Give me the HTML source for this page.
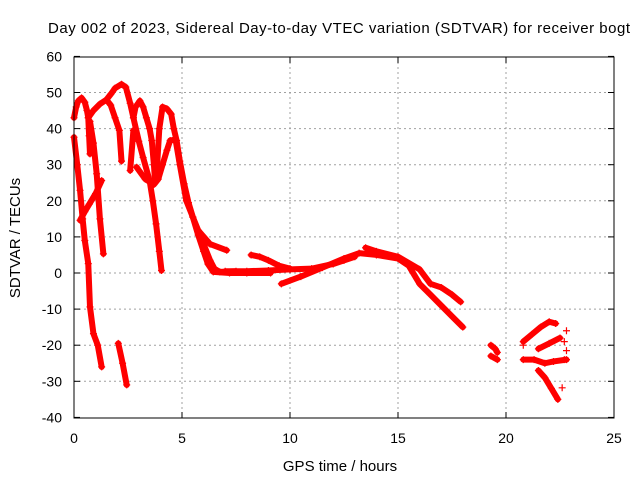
<!DOCTYPE html>
<html><head><meta charset="utf-8"><style>
body{margin:0;background:#fff;}
svg{display:block;font-family:"Liberation Sans",sans-serif;}
</style></head><body>
<svg id="chart" width="640" height="480">
<rect width="640" height="480" fill="#fff"/>
<text x="339" y="33" font-size="15" text-anchor="middle" textLength="582">Day 002 of 2023, Sidereal Day-to-day VTEC variation (SDTVAR) for receiver bogt</text>
<text x="340" y="471" font-size="15" text-anchor="middle">GPS time / hours</text>
<text x="20" y="238" font-size="15" text-anchor="middle" transform="rotate(-90 20 238)">SDTVAR / TECUs</text>
<g id="grid"></g><g id="ticks"></g><g id="marks"></g>
<rect x="74" y="57" width="540" height="361" fill="none" stroke="#000" stroke-width="1"/>
</svg>
<script>
const xTicks=[0,5,10,15,20,25];
const yTicks=[-40,-30,-20,-10,0,10,20,30,40,50,60];
const t1=[[0,43],[0.1,46],[0.2,47.7],[0.35,48.5],[0.5,47.3],[0.6,45],[0.66,43],[0.7,38],[0.74,33]];
const t2=[[0.66,43],[0.9,45],[1.2,46.8],[1.5,48],[1.7,46.5],[1.9,43],[2.1,39.5],[2.2,31]];
const t3=[[1.5,48],[1.7,49.5],[1.9,51.2],[2.2,52.3],[2.4,51.5],[2.6,47],[2.75,43],[3.0,36.5],[3.2,32],[3.5,25.6],[3.65,20],[3.8,13.6],[3.95,6],[4.05,0.7]];
const t4=[[2.75,43],[2.85,46],[3.05,47.7],[3.2,46],[3.35,43],[3.5,40],[3.6,36.7],[3.7,30],[3.75,25.6]];
const t5=[[3.75,25.6],[3.85,30],[3.95,40],[4.1,46],[4.3,45.5],[4.5,44],[4.62,40],[4.75,36.7],[4.9,31],[5.1,24.7],[5.3,19.5],[5.5,15.5],[5.75,10.5],[6,6],[6.2,2.5],[6.45,0.3],[7.2,0],[8,0],[9.1,0]];
const t6=[[2.9,29.3],[3.3,26],[3.7,24.5],[3.9,26],[4.1,30],[4.3,34],[4.45,36.7],[4.7,37],[4.9,30],[5.2,20],[5.5,15.5],[5.75,11.8],[6.0,8],[6.3,3.5],[6.5,1.2],[6.75,0.3],[7.5,0.5]];
const t7=[[5.75,11.8],[6.3,8],[7.07,6.3]];
const t8=[[0,37.6],[0.15,30],[0.28,22.9],[0.4,15],[0.5,9],[0.66,2.6],[0.74,-9.4],[0.9,-16.8],[1.1,-20],[1.28,-26]];
const t9=[[0.28,14.6],[0.5,17],[0.7,19],[1.0,22],[1.28,25.6]];
const t10=[[0.74,42],[0.9,36],[1.05,27.5],[1.2,15],[1.36,5.3]];
const t11=[[2.05,-19.5],[2.25,-25],[2.44,-31]];
const t12=[[2.75,39.5],[2.6,28.4]];
const m1=[[9.6,-3],[10.5,-1],[11.5,1.5],[12.5,4],[13.2,5.5],[14,5],[15,4],[15.5,2],[16,-3],[16.5,-6],[17,-9],[17.5,-12],[18,-15]];
const m2=[[7,0.5],[8,0.5],[9,0.7],[10,1],[11,1.2],[12,2.5],[12.5,3.5],[13,4.5]];
const m3=[[13.5,7],[14,6],[15,4.5],[16,1],[16.5,-3],[17,-4],[17.5,-6],[17.9,-8]];
const m4=[[8.2,5],[8.6,4.5],[9,3.5],[9.5,2],[10,1.2]];
const r1=[[19.3,-20],[19.5,-21],[19.6,-22]];
const r2=[[19.3,-23],[19.6,-24]];
const r3=[[20.8,-19],[21.2,-17],[21.6,-15],[22,-13.5],[22.3,-14]];
const r4=[[20.8,-24],[21.3,-24],[21.8,-25],[22.2,-24.5],[22.8,-24]];
const r5=[[21.5,-21],[22,-19.5],[22.5,-18]];
const r6=[[21.5,-27],[21.8,-29],[22.1,-32],[22.4,-35]];
const r7=[[20.8,-20],[22.6,-31.8],[22.8,-16],[22.7,-19],[22.8,-21.5],[22.7,-24]];
const series=[t1,t2,t3,t4,t5,t6,t7,t8,t9,t10,t11,t12,m1,m2,m3,m4,r1,r2,r3,r4,r5,r6];
const NS="http://www.w3.org/2000/svg";
const X=h=>74+h*21.6, Y=v=>273-v*3.61;
const grid=document.getElementById('grid'),ticks=document.getElementById('ticks'),marks=document.getElementById('marks');
function mk(tag,a,p){const e=document.createElementNS(NS,tag);for(const k in a)e.setAttribute(k,a[k]);p.appendChild(e);return e;}
xTicks.forEach(t=>{
 if(t>0&&t<25){const g=mk('line',{x1:X(t),x2:X(t),y1:57,y2:418,stroke:'#a0a0a0','stroke-dasharray':'2,3'},grid);
 
 }
 mk('line',{x1:X(t),x2:X(t),y1:418,y2:412,stroke:'#000'},ticks);
 mk('line',{x1:X(t),x2:X(t),y1:57,y2:63,stroke:'#000'},ticks);
 const l=mk('text',{x:X(t),y:443,'font-size':14,'text-anchor':'middle'},ticks);l.textContent=t;
 
 
});
yTicks.forEach(t=>{
 if(t>-40&&t<60){const g=mk('line',{x1:74,x2:614,y1:Y(t),y2:Y(t),stroke:'#a0a0a0','stroke-dasharray':'2,3'},grid);
 
 }
 mk('line',{x1:74,x2:80,y1:Y(t),y2:Y(t),stroke:'#000'},ticks);
 mk('line',{x1:608,x2:614,y1:Y(t),y2:Y(t),stroke:'#000'},ticks);
 const l=mk('text',{x:62,y:Y(t)+5,'font-size':14,'text-anchor':'end'},ticks);l.textContent=t;
 
 
});
function plus(h,v){mk('path',{d:`M${X(h)-3.5},${Y(v)}h7M${X(h)},${Y(v)-3.5}v7`,stroke:'#f00','stroke-width':1.2},marks);}
series.forEach(s=>{
 const pl=mk('polyline',{points:s.map(p=>X(p[0])+','+Y(p[1])).join(' '),fill:'none',stroke:'#f00','stroke-width':6,'stroke-linejoin':'round','stroke-linecap':'round'},marks);
 
 
 s.forEach(p=>plus(p[0],p[1]));
});
r7.forEach(p=>plus(p[0],p[1]));
</script>
</body></html>
